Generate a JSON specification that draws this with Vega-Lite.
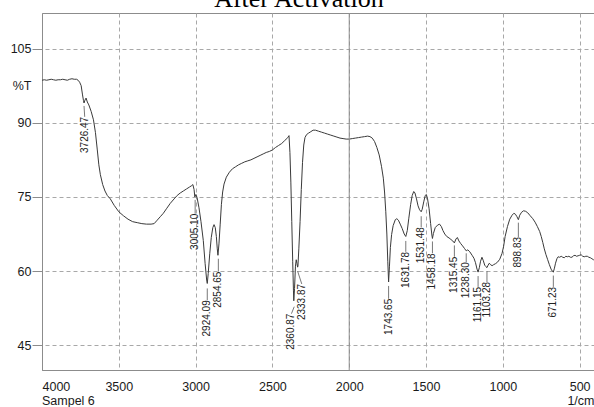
{
  "$schema": "https://vega.github.io/schema/vega-lite/v6.json",
  "width": 553,
  "height": 357,
  "autosize": {"type": "none"},
  "padding": {"left": 42, "top": 13, "right": 0, "bottom": 37},
  "datasets": {
    "spectrum": [
      {"wn": 4000, "t": 98.6}, {"wn": 3985, "t": 98.7}, {"wn": 3970, "t": 98.6}, {"wn": 3955, "t": 98.7}, {"wn": 3940, "t": 98.8}, {"wn": 3925, "t": 98.7}, {"wn": 3910, "t": 98.6}, {"wn": 3895, "t": 98.7}, {"wn": 3880, "t": 98.7}, {"wn": 3865, "t": 98.8}, {"wn": 3850, "t": 98.7}, {"wn": 3835, "t": 98.6}, {"wn": 3820, "t": 98.8}, {"wn": 3805, "t": 98.9}, {"wn": 3790, "t": 98.8}, {"wn": 3775, "t": 98.8}, {"wn": 3765, "t": 98.6}, {"wn": 3755, "t": 98.2}, {"wn": 3745, "t": 97.5}, {"wn": 3737, "t": 95.8}, {"wn": 3730, "t": 94.5}, {"wn": 3726.47, "t": 94.0}, {"wn": 3720, "t": 94.6}, {"wn": 3713, "t": 95.0}, {"wn": 3705, "t": 94.2}, {"wn": 3695, "t": 93.6}, {"wn": 3680, "t": 92.3}, {"wn": 3665, "t": 90.6}, {"wn": 3652, "t": 88.0}, {"wn": 3640, "t": 84.5}, {"wn": 3630, "t": 81.5}, {"wn": 3620, "t": 79.5}, {"wn": 3605, "t": 77.5}, {"wn": 3590, "t": 76.2}, {"wn": 3575, "t": 75.3}, {"wn": 3555, "t": 74.6}, {"wn": 3530, "t": 73.3}, {"wn": 3500, "t": 72.0}, {"wn": 3470, "t": 71.2}, {"wn": 3440, "t": 70.5}, {"wn": 3410, "t": 70.0}, {"wn": 3380, "t": 69.8}, {"wn": 3350, "t": 69.6}, {"wn": 3320, "t": 69.5}, {"wn": 3290, "t": 69.5}, {"wn": 3270, "t": 69.6}, {"wn": 3250, "t": 70.3}, {"wn": 3230, "t": 71.0}, {"wn": 3210, "t": 71.7}, {"wn": 3190, "t": 72.6}, {"wn": 3165, "t": 73.7}, {"wn": 3140, "t": 74.6}, {"wn": 3120, "t": 75.3}, {"wn": 3100, "t": 75.8}, {"wn": 3080, "t": 76.2}, {"wn": 3060, "t": 76.6}, {"wn": 3040, "t": 77.0}, {"wn": 3025, "t": 77.3}, {"wn": 3018, "t": 77.5}, {"wn": 3010, "t": 76.5}, {"wn": 3005.1, "t": 75.0}, {"wn": 2998, "t": 75.5}, {"wn": 2990, "t": 74.8}, {"wn": 2978, "t": 72.8}, {"wn": 2965, "t": 70.0}, {"wn": 2950, "t": 66.2}, {"wn": 2938, "t": 61.5}, {"wn": 2928, "t": 58.2}, {"wn": 2924.09, "t": 57.5}, {"wn": 2918, "t": 59.5}, {"wn": 2908, "t": 63.5}, {"wn": 2898, "t": 66.8}, {"wn": 2888, "t": 68.8}, {"wn": 2880, "t": 69.4}, {"wn": 2872, "t": 68.8}, {"wn": 2865, "t": 67.0}, {"wn": 2859, "t": 64.5}, {"wn": 2854.65, "t": 63.2}, {"wn": 2848, "t": 65.5}, {"wn": 2840, "t": 69.5}, {"wn": 2832, "t": 73.5}, {"wn": 2824, "t": 76.0}, {"wn": 2815, "t": 77.6}, {"wn": 2800, "t": 79.0}, {"wn": 2780, "t": 80.0}, {"wn": 2760, "t": 80.7}, {"wn": 2740, "t": 81.1}, {"wn": 2720, "t": 81.5}, {"wn": 2700, "t": 81.8}, {"wn": 2680, "t": 82.1}, {"wn": 2660, "t": 82.3}, {"wn": 2640, "t": 82.5}, {"wn": 2620, "t": 82.8}, {"wn": 2600, "t": 83.1}, {"wn": 2580, "t": 83.4}, {"wn": 2560, "t": 83.7}, {"wn": 2540, "t": 84.0}, {"wn": 2520, "t": 84.2}, {"wn": 2500, "t": 84.5}, {"wn": 2480, "t": 85.0}, {"wn": 2460, "t": 85.4}, {"wn": 2440, "t": 85.8}, {"wn": 2420, "t": 86.4}, {"wn": 2400, "t": 87.0}, {"wn": 2392, "t": 87.4}, {"wn": 2386, "t": 84.0}, {"wn": 2380, "t": 78.0}, {"wn": 2374, "t": 70.0}, {"wn": 2368, "t": 62.0}, {"wn": 2363, "t": 56.0}, {"wn": 2360.87, "t": 54.0}, {"wn": 2356, "t": 56.5}, {"wn": 2350, "t": 61.0}, {"wn": 2345, "t": 62.3}, {"wn": 2340, "t": 61.5}, {"wn": 2336, "t": 60.8}, {"wn": 2333.87, "t": 61.0}, {"wn": 2328, "t": 64.5}, {"wn": 2320, "t": 70.0}, {"wn": 2312, "t": 76.5}, {"wn": 2304, "t": 82.0}, {"wn": 2296, "t": 85.5}, {"wn": 2288, "t": 87.0}, {"wn": 2278, "t": 87.6}, {"wn": 2265, "t": 87.9}, {"wn": 2250, "t": 88.2}, {"wn": 2235, "t": 88.5}, {"wn": 2220, "t": 88.5}, {"wn": 2200, "t": 88.3}, {"wn": 2180, "t": 88.1}, {"wn": 2160, "t": 87.9}, {"wn": 2140, "t": 87.7}, {"wn": 2120, "t": 87.5}, {"wn": 2100, "t": 87.3}, {"wn": 2080, "t": 87.1}, {"wn": 2060, "t": 86.9}, {"wn": 2040, "t": 86.8}, {"wn": 2020, "t": 86.7}, {"wn": 2000, "t": 86.7}, {"wn": 1980, "t": 86.8}, {"wn": 1960, "t": 86.9}, {"wn": 1940, "t": 87.0}, {"wn": 1920, "t": 87.1}, {"wn": 1900, "t": 87.2}, {"wn": 1880, "t": 87.3}, {"wn": 1865, "t": 87.2}, {"wn": 1850, "t": 86.9}, {"wn": 1835, "t": 86.2}, {"wn": 1820, "t": 85.0}, {"wn": 1805, "t": 83.5}, {"wn": 1790, "t": 81.2}, {"wn": 1778, "t": 78.8}, {"wn": 1770, "t": 76.0}, {"wn": 1762, "t": 72.0}, {"wn": 1755, "t": 67.5}, {"wn": 1749, "t": 62.0}, {"wn": 1743.65, "t": 57.8}, {"wn": 1738, "t": 61.0}, {"wn": 1732, "t": 64.8}, {"wn": 1724, "t": 67.4}, {"wn": 1714, "t": 69.2}, {"wn": 1700, "t": 70.4}, {"wn": 1690, "t": 70.6}, {"wn": 1680, "t": 70.3}, {"wn": 1668, "t": 69.5}, {"wn": 1655, "t": 68.6}, {"wn": 1642, "t": 67.5}, {"wn": 1631.78, "t": 67.0}, {"wn": 1622, "t": 68.2}, {"wn": 1612, "t": 70.7}, {"wn": 1600, "t": 73.5}, {"wn": 1590, "t": 75.3}, {"wn": 1580, "t": 76.1}, {"wn": 1572, "t": 75.8}, {"wn": 1562, "t": 74.6}, {"wn": 1552, "t": 73.2}, {"wn": 1542, "t": 72.4}, {"wn": 1531.48, "t": 72.0}, {"wn": 1525, "t": 72.5}, {"wn": 1515, "t": 74.0}, {"wn": 1505, "t": 75.3}, {"wn": 1498, "t": 75.5}, {"wn": 1490, "t": 74.6}, {"wn": 1480, "t": 72.6}, {"wn": 1470, "t": 69.6}, {"wn": 1462, "t": 67.3}, {"wn": 1458.18, "t": 66.6}, {"wn": 1452, "t": 67.6}, {"wn": 1440, "t": 68.8}, {"wn": 1425, "t": 69.3}, {"wn": 1412, "t": 69.5}, {"wn": 1400, "t": 69.0}, {"wn": 1390, "t": 68.2}, {"wn": 1378, "t": 67.5}, {"wn": 1365, "t": 67.0}, {"wn": 1350, "t": 66.7}, {"wn": 1338, "t": 66.4}, {"wn": 1326, "t": 66.1}, {"wn": 1315.45, "t": 65.7}, {"wn": 1305, "t": 66.5}, {"wn": 1296, "t": 66.8}, {"wn": 1286, "t": 66.1}, {"wn": 1275, "t": 65.6}, {"wn": 1262, "t": 65.1}, {"wn": 1250, "t": 64.6}, {"wn": 1238.3, "t": 64.1}, {"wn": 1228, "t": 64.3}, {"wn": 1215, "t": 63.9}, {"wn": 1200, "t": 63.2}, {"wn": 1188, "t": 62.6}, {"wn": 1178, "t": 61.7}, {"wn": 1168, "t": 60.4}, {"wn": 1161.15, "t": 59.8}, {"wn": 1153, "t": 60.7}, {"wn": 1145, "t": 62.0}, {"wn": 1136, "t": 62.8}, {"wn": 1128, "t": 62.2}, {"wn": 1118, "t": 61.2}, {"wn": 1110, "t": 60.9}, {"wn": 1103.28, "t": 60.7}, {"wn": 1096, "t": 61.2}, {"wn": 1088, "t": 61.6}, {"wn": 1080, "t": 61.3}, {"wn": 1070, "t": 61.1}, {"wn": 1060, "t": 61.3}, {"wn": 1048, "t": 61.5}, {"wn": 1035, "t": 61.8}, {"wn": 1020, "t": 62.4}, {"wn": 1005, "t": 63.6}, {"wn": 995, "t": 65.0}, {"wn": 985, "t": 67.0}, {"wn": 970, "t": 69.0}, {"wn": 955, "t": 70.5}, {"wn": 940, "t": 71.3}, {"wn": 928, "t": 71.7}, {"wn": 918, "t": 71.5}, {"wn": 908, "t": 71.0}, {"wn": 898.83, "t": 70.4}, {"wn": 890, "t": 71.3}, {"wn": 878, "t": 71.9}, {"wn": 865, "t": 72.2}, {"wn": 852, "t": 72.1}, {"wn": 838, "t": 71.8}, {"wn": 822, "t": 71.2}, {"wn": 805, "t": 70.6}, {"wn": 790, "t": 69.9}, {"wn": 775, "t": 69.0}, {"wn": 760, "t": 68.0}, {"wn": 750, "t": 67.0}, {"wn": 740, "t": 65.8}, {"wn": 730, "t": 64.5}, {"wn": 720, "t": 63.4}, {"wn": 708, "t": 62.3}, {"wn": 697, "t": 61.3}, {"wn": 686, "t": 60.4}, {"wn": 678, "t": 60.0}, {"wn": 671.23, "t": 59.8}, {"wn": 664, "t": 60.6}, {"wn": 657, "t": 61.6}, {"wn": 648, "t": 62.5}, {"wn": 640, "t": 62.9}, {"wn": 630, "t": 62.8}, {"wn": 620, "t": 63.0}, {"wn": 610, "t": 62.8}, {"wn": 600, "t": 62.7}, {"wn": 590, "t": 63.0}, {"wn": 580, "t": 62.9}, {"wn": 570, "t": 63.0}, {"wn": 560, "t": 62.8}, {"wn": 550, "t": 62.8}, {"wn": 540, "t": 63.1}, {"wn": 530, "t": 63.2}, {"wn": 520, "t": 63.0}, {"wn": 510, "t": 63.1}, {"wn": 500, "t": 63.2}, {"wn": 490, "t": 63.3}, {"wn": 480, "t": 63.0}, {"wn": 470, "t": 62.9}, {"wn": 460, "t": 63.0}, {"wn": 450, "t": 63.0}, {"wn": 440, "t": 62.8}, {"wn": 430, "t": 62.7}, {"wn": 420, "t": 62.5}, {"wn": 410, "t": 62.3}, {"wn": 405, "t": 62.3}
    ],
    "peaks": [
      {"label": "3726.47", "px": 3726.47, "pt": 93.4, "lx": 3722, "lt": 91.2},
      {"label": "3005.10", "px": 3003, "pt": 74.4, "lx": 3003, "lt": 71.6},
      {"label": "2924.09", "px": 2924.09, "pt": 56.5, "lx": 2924.09, "lt": 54.1},
      {"label": "2854.65", "px": 2852, "pt": 62.5, "lx": 2852, "lt": 59.9},
      {"label": "2360.87", "px": 2358, "pt": 52.8, "lx": 2376, "lt": 51.4},
      {"label": "2333.87", "px": 2336, "pt": 60.0, "lx": 2309, "lt": 57.4},
      {"label": "1743.65", "px": 1743.65, "pt": 57.0, "lx": 1743.65, "lt": 54.4},
      {"label": "1631.78", "px": 1631.78, "pt": 66.1, "lx": 1631.78, "lt": 63.9},
      {"label": "1531.48", "px": 1531.48, "pt": 71.1, "lx": 1531.48, "lt": 68.9},
      {"label": "1458.18", "px": 1458.18, "pt": 66.0, "lx": 1458.18, "lt": 63.6},
      {"label": "1315.45", "px": 1315.45, "pt": 65.2, "lx": 1315.45, "lt": 62.9},
      {"label": "1238.30", "px": 1238.3, "pt": 63.6, "lx": 1238.3, "lt": 61.8},
      {"label": "1161.15", "px": 1161.15, "pt": 59.0, "lx": 1161.15, "lt": 56.8},
      {"label": "1103.28", "px": 1103.28, "pt": 60.0, "lx": 1103.28, "lt": 57.8},
      {"label": "898.83", "px": 898.83, "pt": 69.8, "lx": 898.83, "lt": 66.9},
      {"label": "671.23", "px": 671.23, "pt": 59.1, "lx": 671.23, "lt": 56.8}
    ],
    "center": [{"wn": 2000}],
    "notes": [{"wn": 4000, "t": 33.8, "text": "Sampel 6"}],
    "heading": [{"wn": 2327, "t": 113.4, "text": "After Activation"}]
  },
  "layer": [
    {
      "data": {"name": "spectrum"},
      "mark": {"type": "line", "color": "#3a3a3a", "strokeWidth": 1, "interpolate": "linear"},
      "encoding": {
        "x": {
          "field": "wn", "type": "quantitative",
          "scale": {"domain": [400, 4000], "reverse": true, "nice": false, "zero": false},
          "axis": {
            "values": [4000, 3500, 3000, 2500, 2000, 1500, 1000, 500],
            "format": "d",
            "title": "1/cm",
            "titleX": 552, "titleY": 30, "titleAlign": "right", "titleBaseline": "middle", "titleAngle": 0,
            "tickSize": 0, "labelPadding": 10,
            "grid": true
          }
        },
        "y": {
          "field": "t", "type": "quantitative",
          "scale": {"domain": [40, 112.2], "nice": false, "zero": false},
          "axis": {
            "values": [45, 60, 75, 90, 105],
            "title": "%T",
            "titleX": -11, "titleY": 72, "titleAlign": "right", "titleBaseline": "middle", "titleAngle": 0,
            "tickSize": 10, "labelPadding": 1,
            "grid": true
          }
        }
      }
    },
    {
      "data": {"name": "center"},
      "mark": {"type": "rule", "color": "#8c8c8c", "strokeWidth": 1},
      "encoding": {
        "x": {"field": "wn", "type": "quantitative"}
      }
    },
    {
      "data": {"name": "peaks"},
      "mark": {"type": "rule", "color": "#555555", "strokeWidth": 0.8},
      "encoding": {
        "x": {"field": "px", "type": "quantitative"},
        "y": {"field": "pt", "type": "quantitative"},
        "x2": {"field": "lx"},
        "y2": {"field": "lt"}
      }
    },
    {
      "data": {"name": "peaks"},
      "mark": {"type": "text", "angle": 270, "align": "right", "baseline": "middle", "font": "Liberation Sans", "fontSize": 10, "color": "#222222"},
      "encoding": {
        "x": {"field": "lx", "type": "quantitative"},
        "y": {"field": "lt", "type": "quantitative"},
        "text": {"field": "label"}
      }
    },
    {
      "data": {"name": "notes"},
      "mark": {"type": "text", "align": "left", "baseline": "middle", "font": "Liberation Sans", "fontSize": 12.5, "color": "#1a1a1a"},
      "encoding": {
        "x": {"field": "wn", "type": "quantitative"},
        "y": {"field": "t", "type": "quantitative"},
        "text": {"field": "text"}
      }
    },
    {
      "data": {"name": "heading"},
      "mark": {"type": "text", "align": "center", "baseline": "alphabetic", "font": "Liberation Serif", "fontSize": 26, "color": "#000000"},
      "encoding": {
        "x": {"field": "wn", "type": "quantitative"},
        "y": {"field": "t", "type": "quantitative"},
        "text": {"field": "text"}
      }
    }
  ],
  "config": {
    "view": {"stroke": "#8c8c8c", "strokeWidth": 1},
    "axis": {
      "domainColor": "#8c8c8c",
      "tickColor": "#8c8c8c",
      "gridColor": "#a8a8a8",
      "gridDash": [4, 3],
      "gridWidth": 1,
      "labelFont": "Liberation Sans",
      "labelFontSize": 12.5,
      "labelColor": "#1a1a1a",
      "titleFont": "Liberation Sans",
      "titleFontSize": 12.5,
      "titleFontWeight": "normal",
      "titleColor": "#1a1a1a"
    }
  }
}
